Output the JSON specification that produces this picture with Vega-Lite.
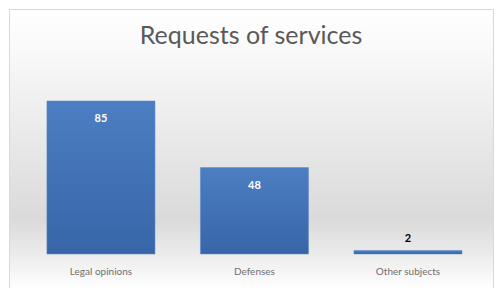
{
  "$schema": "https://vega.github.io/schema/vega-lite/v6.json",
  "width": 484,
  "height": 279,
  "autosize": {"type": "none"},
  "padding": {"left": 9, "top": 9, "right": 4, "bottom": 0},
  "background": "#ffffff",
  "title": {
    "text": "Requests of services",
    "anchor": "middle",
    "baseline": "alphabetic",
    "offset": -60,
    "font": "Lato",
    "fontSize": 25,
    "fontWeight": "normal",
    "color": "#595959"
  },
  "config": {
    "view": {
      "stroke": "#d9d9d9",
      "strokeWidth": 1,
      "fill": {
        "gradient": "linear",
        "x1": 0, "y1": 0, "x2": 0, "y2": 1,
        "stops": [
          {"offset": 0, "color": "#ffffff"},
          {"offset": 0.15, "color": "#f9f9f9"},
          {"offset": 0.75, "color": "#dadada"},
          {"offset": 0.88, "color": "#ececec"},
          {"offset": 1, "color": "#ffffff"}
        ]
      }
    }
  },
  "data": {
    "values": [
      {"category": "Legal opinions", "value": 85},
      {"category": "Defenses", "value": 48},
      {"category": "Other subjects", "value": 2}
    ]
  },
  "encoding": {
    "x": {
      "field": "category",
      "type": "nominal",
      "sort": null,
      "scale": {"paddingInner": 0.296, "paddingOuter": 0.2245, "align": 0.55},
      "axis": {
        "title": null,
        "orient": "bottom",
        "offset": -30,
        "domain": false,
        "ticks": false,
        "labelAngle": 0,
        "labelPadding": 8,
        "labelFont": "Lato",
        "labelFontSize": 10,
        "labelColor": "#707070"
      }
    },
    "y": {
      "field": "value",
      "type": "quantitative",
      "scale": {"domain": [-18.9, 136.1], "nice": false, "zero": false},
      "axis": null
    }
  },
  "layer": [
    {
      "mark": {
        "type": "bar",
        "color": {
          "gradient": "linear",
          "x1": 0, "y1": 0, "x2": 0, "y2": 1,
          "stops": [
            {"offset": 0, "color": "#4c7ec2"},
            {"offset": 1, "color": "#3766a8"}
          ]
        },
        "stroke": "#5b88c8",
        "strokeWidth": 0.5
      },
      "encoding": {
        "y2": {"datum": 0}
      }
    },
    {
      "transform": [{"filter": "datum.value > 10"}],
      "mark": {
        "type": "text",
        "baseline": "middle",
        "dy": 18,
        "font": "Lato",
        "fontSize": 11,
        "fontWeight": "bold",
        "color": "#ffffff"
      },
      "encoding": {
        "text": {"field": "value", "type": "quantitative"}
      }
    },
    {
      "transform": [{"filter": "datum.value <= 10"}],
      "mark": {
        "type": "text",
        "baseline": "middle",
        "dy": -11,
        "font": "Lato",
        "fontSize": 11,
        "fontWeight": "bold",
        "color": "#000000"
      },
      "encoding": {
        "text": {"field": "value", "type": "quantitative"}
      }
    }
  ]
}
